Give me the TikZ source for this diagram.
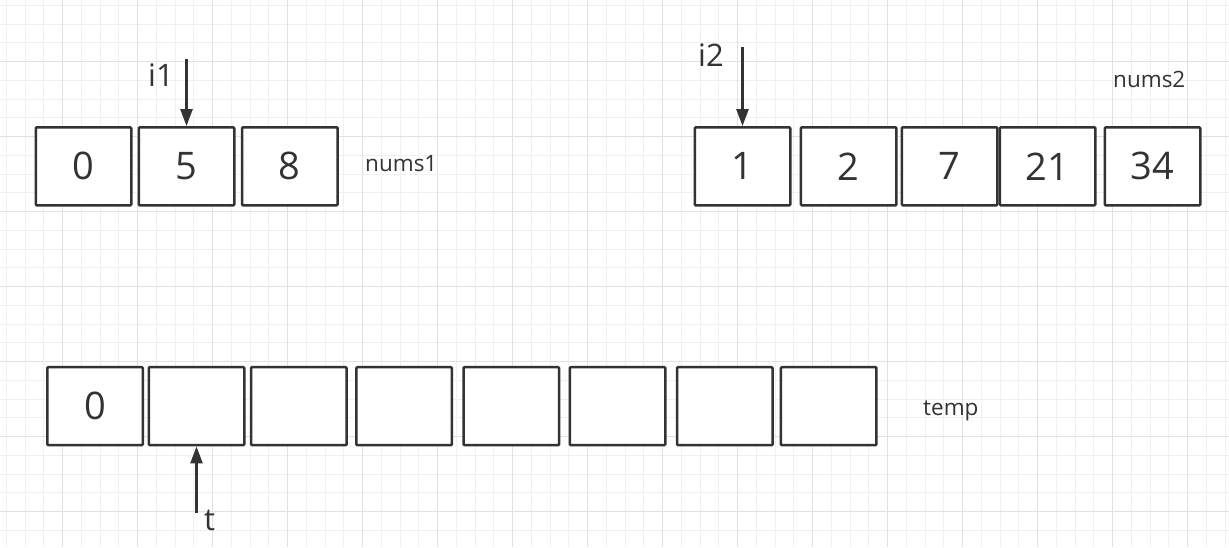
\documentclass[tikz,border=0pt]{standalone}
\usepackage{fontspec}
\setmainfont{Open Sans}
\usetikzlibrary{arrows.meta}
\definecolor{ink}{HTML}{333333}
\definecolor{gridminor}{HTML}{F0F0F0}
\definecolor{gridmajor}{HTML}{E1E1E1}
\begin{document}
\begin{tikzpicture}[x=1pt,y=-1pt,
  cell/.style={draw=ink, line width=2.5pt, rounded corners=1pt, fill=white,
    minimum width=95.5pt, minimum height=78pt, inner sep=0pt,
    font=\fontsize{38}{40}\selectfont, text=ink},
  ptrlabel/.style={inner sep=0pt, anchor=base west, text=ink, font=\fontsize{31}{33}\selectfont},
  arrname/.style={inner sep=0pt, anchor=base west, text=ink, font=\fontsize{22.5}{24}\selectfont},
  ptr/.style={draw=ink, line width=2.5pt, -{Triangle[width=12pt,length=17pt]}}]
\useasboundingbox (0,0) rectangle (1229,547);
\fill[white] (0,0) rectangle (1229,547);
% grid
\foreach \k in {0,...,66} {
  \draw[gridminor, line width=1pt] ({-12.5+18.75*\k},0) -- ({-12.5+18.75*\k},547);
}
\foreach \k in {0,...,30} {
  \draw[gridminor, line width=1pt] (0,{-13.33+18.75*\k}) -- (1229,{-13.33+18.75*\k});
}
\foreach \k in {0,...,17} {
  \draw[gridmajor, line width=1pt] ({-12.5+75*\k},0) -- ({-12.5+75*\k},547);
}
\foreach \k in {0,...,8} {
  \draw[gridmajor, line width=1pt] (0,{-13.33+75*\k}) -- (1229,{-13.33+75*\k});
}
% nums1
\node[cell] (a0) at (83.5,166.3) {0};
\node[cell] (a1) at (186.5,166.3) {5};
\node[cell] (a2) at (289.8,166.3) {8};
\node[arrname] (nums1) at (365,171.7) {nums1};
% nums2
\node[cell] (b0) at (742.5,166.3) {1};
\node[cell] (b1) at (848.7,166.3) {2};
\node[cell] (b2) at (949.6,166.3) {7};
\node[cell] (b3) at (1047.6,166.3) {21};
\node[cell] (b4) at (1152.5,166.3) {34};
\node[arrname] (nums2) at (1113,87.3) {nums2};
% temp
\node[cell] (c0) at (95,406.2) {0};
\node[cell] (c1) at (196.5,406.2) {};
\node[cell] (c2) at (298.8,406.2) {};
\node[cell] (c3) at (404.1,406.2) {};
\node[cell] (c4) at (511.3,406.2) {};
\node[cell] (c5) at (617.5,406.2) {};
\node[cell] (c6) at (724.8,406.2) {};
\node[cell] (c7) at (828.7,406.2) {};
\node[arrname] (tempname) at (923,415) {temp};
% pointers
\coordinate (i1s) at (186.5,59.3);
\coordinate (i2s) at (742.5,47.3);
\coordinate (ts) at (196.5,513.3);
\draw[ptr] (i1s) -- (a1.north);
\draw[ptr] (i2s) -- (b0.north);
\draw[ptr] (ts) -- (c1.south);
\node[ptrlabel] (i1) at (148,86.7) {i1};
\node[ptrlabel] (i2) at (698,66) {i2};
\node[ptrlabel] (t) at (204,530.7) {t};
\end{tikzpicture}
\end{document}
